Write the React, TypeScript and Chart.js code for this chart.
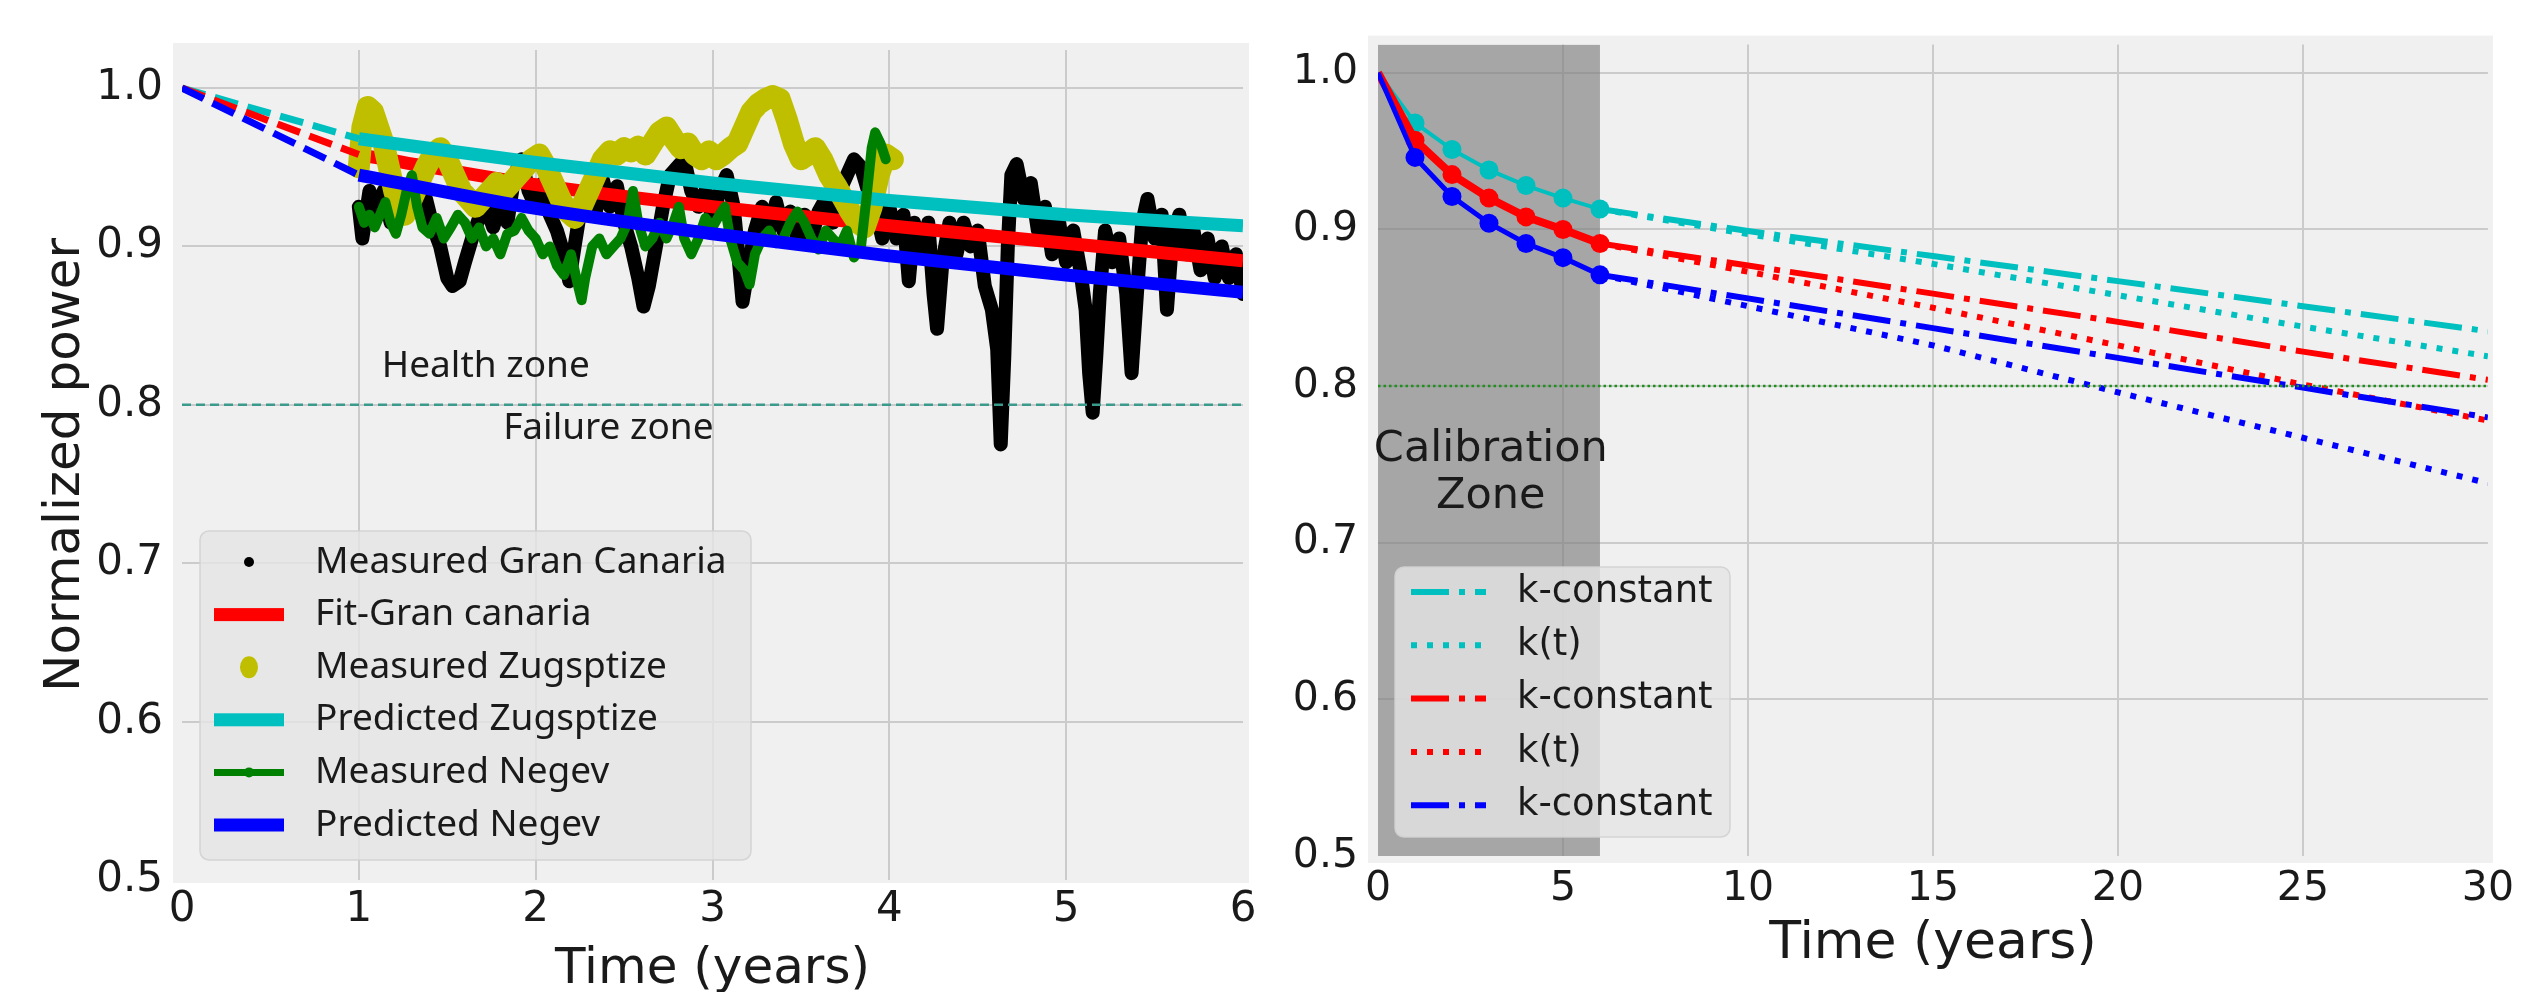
import React, { useEffect, useRef } from 'react';
import { Chart, registerables } from 'chart.js';

Chart.register(...registerables);

// ---------------- Left panel data ----------------
const leftXTicks = [0, 1, 2, 3, 4, 5, 6];
const leftYTicks = [0.5, 0.6, 0.7, 0.8, 0.9, 1.0];

const fitYears = [1, 2, 3, 4, 5, 6];
const fitGranCanaria = [0.958, 0.939, 0.925, 0.913, 0.902, 0.891];
const predZugspitze = [0.968, 0.953, 0.94, 0.929, 0.92, 0.913];
const predNegev = [0.945, 0.924, 0.908, 0.894, 0.882, 0.871];

const extYears = [0, 1];
const extGranCanaria = [1.0, 0.958];
const extZugspitze = [1.0, 0.968];
const extNegev = [1.0, 0.945];

const thresholdYearsLeft = [0, 6];
const thresholdLeft = [0.8, 0.8];

const gcYears = [
  1.0, 1.02, 1.04, 1.06, 1.1, 1.14, 1.18, 1.22, 1.26, 1.3, 1.34, 1.38, 1.42, 1.46, 1.5, 1.53, 1.57, 1.6, 1.64, 1.68,
  1.72, 1.76, 1.8, 1.84, 1.88, 1.92, 1.96, 2.0, 2.04, 2.08, 2.12, 2.16, 2.19, 2.22, 2.26, 2.3, 2.34, 2.38, 2.42, 2.46,
  2.5, 2.54, 2.58, 2.61, 2.64, 2.68, 2.72, 2.76, 2.8, 2.84, 2.88, 2.92, 2.96, 3.0, 3.04, 3.08, 3.12, 3.15, 3.17, 3.2,
  3.24, 3.28, 3.32, 3.36, 3.4, 3.44, 3.48, 3.52, 3.56, 3.6, 3.64, 3.68, 3.72, 3.76, 3.8, 3.84, 3.88, 3.92, 3.96, 4.0,
  4.04, 4.08, 4.11, 4.14, 4.18, 4.22, 4.25, 4.27, 4.3, 4.34, 4.38, 4.42, 4.46, 4.5, 4.54, 4.58, 4.61, 4.63, 4.65, 4.67,
  4.69, 4.72, 4.76, 4.8, 4.84, 4.88, 4.92, 4.96, 5.0, 5.04, 5.08, 5.11, 5.13, 5.15, 5.17, 5.19, 5.22, 5.26, 5.3, 5.34,
  5.37, 5.4, 5.43, 5.46, 5.5, 5.54, 5.57, 5.6, 5.64, 5.68, 5.72, 5.76, 5.8, 5.84, 5.88, 5.92, 5.96, 6.0,
];
const gcPower = [
  0.925, 0.905, 0.92, 0.935, 0.92, 0.935, 0.915, 0.932, 0.918, 0.938, 0.922, 0.93, 0.912, 0.9, 0.88, 0.875, 0.878, 0.89, 0.905, 0.918,
  0.925, 0.912, 0.928, 0.915, 0.945, 0.955, 0.935, 0.925, 0.94, 0.92, 0.91, 0.895, 0.878, 0.9, 0.928, 0.938, 0.922, 0.942, 0.925, 0.938,
  0.915, 0.9, 0.88, 0.862, 0.875, 0.9, 0.925, 0.945, 0.95, 0.955, 0.935, 0.925, 0.935, 0.918, 0.935, 0.945, 0.925, 0.89, 0.865, 0.885,
  0.91, 0.925, 0.91, 0.928, 0.91, 0.922, 0.905, 0.92, 0.905, 0.922, 0.93, 0.915, 0.935, 0.945, 0.955, 0.95, 0.935, 0.925, 0.905, 0.925,
  0.905, 0.92, 0.878, 0.915, 0.895, 0.915, 0.87, 0.848, 0.89, 0.915, 0.895, 0.915, 0.9, 0.91, 0.875, 0.86, 0.835, 0.775, 0.83, 0.9,
  0.945, 0.952, 0.93, 0.94, 0.91, 0.925, 0.895, 0.915, 0.89, 0.91, 0.885, 0.86, 0.82, 0.795, 0.83, 0.87, 0.91, 0.89, 0.905, 0.87,
  0.82, 0.87, 0.915, 0.93, 0.905, 0.92, 0.86, 0.905, 0.92, 0.895, 0.91, 0.885, 0.905, 0.88, 0.9, 0.88, 0.895, 0.87,
];

const zugYears = [
  1.0, 1.02, 1.05, 1.08, 1.11, 1.14, 1.17, 1.2, 1.23, 1.26, 1.3, 1.34, 1.38, 1.42, 1.46, 1.5, 1.54, 1.58, 1.62, 1.66,
  1.7, 1.74, 1.78, 1.82, 1.86, 1.9, 1.94, 1.98, 2.02, 2.06, 2.1, 2.14, 2.18, 2.22, 2.26, 2.3, 2.34, 2.38, 2.42, 2.46,
  2.5, 2.54, 2.58, 2.62, 2.66, 2.7, 2.74, 2.78, 2.82, 2.86, 2.9, 2.94, 2.98, 3.02, 3.06, 3.1, 3.14, 3.18, 3.22, 3.26,
  3.3, 3.34, 3.38, 3.42, 3.46, 3.5, 3.54, 3.58, 3.62, 3.66, 3.7, 3.74, 3.78, 3.82, 3.86, 3.9, 3.94, 3.98, 4.02,
];
const zugPower = [
  0.95, 0.975, 0.988, 0.985, 0.975, 0.965, 0.95, 0.935, 0.925, 0.92, 0.93, 0.94, 0.95, 0.958, 0.962, 0.955, 0.945, 0.935, 0.93, 0.925,
  0.93, 0.935, 0.94, 0.935, 0.94, 0.945, 0.95, 0.955, 0.958, 0.95, 0.94, 0.93, 0.922, 0.918, 0.925, 0.935, 0.945, 0.955, 0.96, 0.958,
  0.962, 0.96, 0.963, 0.958, 0.965, 0.972, 0.975, 0.968, 0.962, 0.965, 0.958, 0.955, 0.96, 0.955, 0.958, 0.962, 0.965, 0.975, 0.985, 0.99,
  0.993, 0.995, 0.993, 0.98, 0.965, 0.955, 0.958, 0.962, 0.955, 0.945, 0.938, 0.93, 0.922, 0.915, 0.912, 0.925, 0.945, 0.958, 0.955,
];

const negevYears = [
  1.0, 1.03, 1.06, 1.09, 1.12, 1.15, 1.18, 1.21, 1.24, 1.27, 1.3, 1.33, 1.36, 1.4, 1.44, 1.48, 1.52, 1.56, 1.6, 1.64,
  1.68, 1.72, 1.76, 1.8, 1.84, 1.88, 1.92, 1.96, 2.0, 2.04, 2.08, 2.12, 2.16, 2.2, 2.24, 2.26, 2.28, 2.32, 2.36, 2.4,
  2.44, 2.48, 2.52, 2.55, 2.58, 2.62, 2.66, 2.7, 2.74, 2.78, 2.81, 2.84, 2.88, 2.92, 2.96, 3.0, 3.04, 3.07, 3.1, 3.14,
  3.18, 3.21, 3.24, 3.28, 3.32, 3.36, 3.4, 3.44, 3.48, 3.52, 3.56, 3.6, 3.64, 3.68, 3.72, 3.76, 3.8, 3.84, 3.87, 3.9,
  3.92, 3.95, 3.98,
];
const negevPower = [
  0.925, 0.915, 0.92, 0.912, 0.92, 0.928, 0.915, 0.908, 0.92, 0.935, 0.945, 0.925, 0.912, 0.908, 0.918, 0.905, 0.912, 0.92, 0.915, 0.905,
  0.912, 0.9, 0.905, 0.895, 0.908, 0.91, 0.918, 0.91, 0.905, 0.895, 0.9, 0.888, 0.882, 0.895, 0.875, 0.866, 0.88, 0.9, 0.905, 0.895,
  0.9, 0.905, 0.915, 0.935, 0.915, 0.9, 0.905, 0.915, 0.905, 0.915, 0.925, 0.905, 0.895, 0.905, 0.918, 0.912, 0.92, 0.925, 0.905, 0.89,
  0.885, 0.876, 0.895, 0.905, 0.91, 0.902, 0.905, 0.915, 0.922, 0.915, 0.905, 0.898, 0.91, 0.905, 0.9, 0.91, 0.893, 0.9, 0.93, 0.962,
  0.972, 0.965, 0.955,
];

// ---------------- Right panel data ----------------
const rightXTicks = [0, 5, 10, 15, 20, 25, 30];
const rightYTicks = [0.5, 0.6, 0.7, 0.8, 0.9, 1.0];

const zoneYears = [0, 6];
const zoneTop = [1.018, 1.018];

const calYears = [0, 1, 2, 3, 4, 5, 6];
const calCyan = [1.0, 0.968, 0.951, 0.938, 0.928, 0.92, 0.913];
const calRed = [1.0, 0.957, 0.935, 0.92, 0.908, 0.9, 0.891];
const calBlue = [1.0, 0.946, 0.921, 0.904, 0.891, 0.882, 0.871];

const projYears = [6, 10, 15, 20, 25, 30];
const cyanKConst = [0.913, 0.899, 0.883, 0.867, 0.851, 0.835];
const cyanKt = [0.913, 0.897, 0.878, 0.858, 0.838, 0.819];
const redKConst = [0.891, 0.877, 0.859, 0.841, 0.822, 0.804];
const redKt = [0.891, 0.873, 0.85, 0.826, 0.801, 0.778];
const blueKConst = [0.871, 0.856, 0.837, 0.818, 0.799, 0.78];
const blueKt = [0.871, 0.851, 0.826, 0.796, 0.767, 0.738];

const thresholdYearsRight = [0, 30];
const thresholdRight = [0.8, 0.8];

// ---------------- helpers ----------------
const pts = (xs: number[], ys: number[]) => xs.map((x, i) => ({ x, y: ys[i] }));

const CYAN = '#00bfbf';
const RED = '#ff0000';
const BLUE = '#0000ff';
const GREEN = '#008000';
const OLIVE = '#bfbf00';
const GRID = '#cbcbcb';
const TEXT = '#1a1a1a';
const DEJAVU = '"DejaVu Sans", sans-serif';
const NOTO = '"Noto Sans", "DejaVu Sans", sans-serif';

function roundRect(ctx: CanvasRenderingContext2D, x: number, y: number, w: number, h: number, r: number) {
  ctx.beginPath();
  ctx.moveTo(x + r, y);
  ctx.arcTo(x + w, y, x + w, y + h, r);
  ctx.arcTo(x + w, y + h, x, y + h, r);
  ctx.arcTo(x, y + h, x, y, r);
  ctx.arcTo(x, y, x + w, y, r);
  ctx.closePath();
}

function bgPlugin(ext: { l: number; r: number; t: number; b: number }) {
  return {
    id: 'axesBg',
    beforeDraw(chart: any) {
      const { ctx, chartArea: a } = chart;
      ctx.save();
      ctx.fillStyle = '#f0f0f0';
      ctx.fillRect(a.left - ext.l, a.top - ext.t, a.width + ext.l + ext.r, a.height + ext.t + ext.b);
      ctx.restore();
    },
  };
}

type LegendRow = { ds: number; kind: string };
function legendPlugin(box: { x: number; y: number; w: number; h: number }, rowY0: number, rowStep: number,
  sx0: number, sx1: number, tx: number, font: string, rows: LegendRow[]) {
  return {
    id: 'customLegend',
    afterDraw(chart: any) {
      const ctx: CanvasRenderingContext2D = chart.ctx;
      ctx.save();
      roundRect(ctx, box.x, box.y, box.w, box.h, 9);
      ctx.fillStyle = 'rgba(229,229,229,0.8)';
      ctx.fill();
      ctx.strokeStyle = 'rgba(210,210,210,0.9)';
      ctx.lineWidth = 1.5;
      ctx.stroke();
      rows.forEach((row, i) => {
        const ds = chart.data.datasets[row.ds];
        const y = rowY0 + i * rowStep;
        const cx = (sx0 + sx1) / 2;
        ctx.save();
        const col = ds.borderColor;
        if (row.kind === 'dot') {
          ctx.fillStyle = col;
          ctx.beginPath();
          ctx.arc(cx, y, 5, 0, Math.PI * 2);
          ctx.fill();
        } else if (row.kind === 'bigdot') {
          ctx.fillStyle = col;
          ctx.beginPath();
          ctx.ellipse(cx, y, 9, 11, 0, 0, Math.PI * 2);
          ctx.fill();
        } else if (row.kind === 'bar') {
          ctx.fillStyle = col;
          ctx.fillRect(sx0, y - 6.5, sx1 - sx0, 13);
        } else if (row.kind === 'linedot') {
          ctx.strokeStyle = col;
          ctx.lineWidth = 7;
          ctx.beginPath();
          ctx.moveTo(sx0, y);
          ctx.lineTo(sx1, y);
          ctx.stroke();
          ctx.fillStyle = col;
          ctx.beginPath();
          ctx.arc(cx, y, 5, 0, Math.PI * 2);
          ctx.fill();
        } else {
          ctx.strokeStyle = col;
          ctx.lineWidth = ds.borderWidth;
          ctx.setLineDash(ds.borderDash || []);
          ctx.beginPath();
          ctx.moveTo(sx0, y);
          ctx.lineTo(sx1, y);
          ctx.stroke();
        }
        ctx.restore();
        ctx.fillStyle = TEXT;
        ctx.font = font;
        ctx.textAlign = 'left';
        ctx.textBaseline = 'middle';
        ctx.fillText(ds.label, tx, y);
      });
      ctx.restore();
    },
  };
}

type Note = { text: string; x: number; y: number; align: CanvasTextAlign };
function notesPlugin(notes: Note[], font: string) {
  return {
    id: 'notes',
    afterDatasetsDraw(chart: any) {
      const { ctx, scales } = chart;
      ctx.save();
      ctx.fillStyle = TEXT;
      ctx.font = font;
      ctx.textBaseline = 'middle';
      notes.forEach((n) => {
        ctx.textAlign = n.align;
        ctx.fillText(n.text, scales.x.getPixelForValue(n.x), scales.y.getPixelForValue(n.y));
      });
      ctx.restore();
    },
  };
}

function gridColor(hidden: number[]) {
  return (c: any) => (c.tick && hidden.includes(c.tick.value) ? 'rgba(0,0,0,0)' : GRID);
}

// ---------------- Left chart ----------------
function LeftPanel() {
  const ref = useRef<HTMLCanvasElement>(null);
  useEffect(() => {
    const round = { borderJoinStyle: 'round', borderCapStyle: 'round', pointRadius: 0, tension: 0 };
    const chart = new Chart(ref.current as HTMLCanvasElement, {
      type: 'line',
      data: {
        datasets: [
          { label: 'Measured Gran Canaria', data: pts(gcYears, gcPower), borderColor: '#000000', borderWidth: 14, order: 10, ...round },
          { label: 'Fit-Gran canaria', data: pts(fitYears, fitGranCanaria), borderColor: RED, borderWidth: 13, pointRadius: 0, cubicInterpolationMode: 'monotone', order: 9 },
          { label: 'Measured Zugsptize', data: pts(zugYears, zugPower), borderColor: OLIVE, borderWidth: 22, order: 8, ...round },
          { label: 'Predicted Zugsptize', data: pts(fitYears, predZugspitze), borderColor: CYAN, borderWidth: 13, pointRadius: 0, cubicInterpolationMode: 'monotone', order: 7 },
          { label: 'Measured Negev', data: pts(negevYears, negevPower), borderColor: GREEN, borderWidth: 10, order: 6, ...round },
          { label: 'Predicted Negev', data: pts(fitYears, predNegev), borderColor: BLUE, borderWidth: 13, pointRadius: 0, cubicInterpolationMode: 'monotone', order: 5 },
          { label: 'ext-cyan', data: pts(extYears, extZugspitze), borderColor: CYAN, borderWidth: 7, borderDash: [24, 10], pointRadius: 0, order: 4 },
          { label: 'ext-red', data: pts(extYears, extGranCanaria), borderColor: RED, borderWidth: 7, borderDash: [24, 10], pointRadius: 0, order: 3 },
          { label: 'ext-blue', data: pts(extYears, extNegev), borderColor: BLUE, borderWidth: 7, borderDash: [24, 10], pointRadius: 0, order: 2 },
          { label: 'threshold', data: pts(thresholdYearsLeft, thresholdLeft), borderColor: '#3a9a8c', borderWidth: 2.5, borderDash: [9, 5], pointRadius: 0, order: 1 },
        ],
      },
      options: {
        responsive: false,
        animation: false,
        devicePixelRatio: 1,
        layout: { padding: { top: 50, right: 25, left: 0, bottom: 0 } },
        plugins: { legend: { display: false }, tooltip: { enabled: false } },
        scales: {
          x: {
            type: 'linear',
            min: 0,
            max: 6,
            afterBuildTicks: (s: any) => { s.ticks = leftXTicks.map((v) => ({ value: v })); },
            afterFit: (s: any) => { s.height = 112; },
            grid: { color: gridColor([0, 6]), lineWidth: 2, drawTicks: false },
            border: { display: false },
            ticks: { padding: 5, color: TEXT, font: { family: DEJAVU, size: 42 }, maxRotation: 0, autoSkip: false, callback: (v: any) => String(v) },
            title: { display: true, text: 'Time (years)', color: TEXT, font: { family: DEJAVU, size: 50, lineHeight: 1 }, padding: { top: 0, bottom: -3 } },
          },
          y: {
            type: 'linear',
            min: 0.5,
            max: 1.024,
            afterBuildTicks: (s: any) => { s.ticks = leftYTicks.map((v) => ({ value: v })); },
            afterFit: (s: any) => { s.width = 182; },
            grid: { color: gridColor([0.5]), lineWidth: 2, drawTicks: false },
            border: { display: false },
            ticks: { padding: 19, color: TEXT, font: { family: DEJAVU, size: 42 }, callback: (v: any) => Number(v).toFixed(1) },
            title: { display: true, text: 'Normalized power', color: TEXT, font: { family: DEJAVU, size: 50, lineHeight: 1.2 }, padding: { top: 36, bottom: 0 } },
          },
        },
      } as any,
      plugins: [
        bgPlugin({ l: 9, r: 6, t: 7, b: 3 }),
        notesPlugin([
          { text: 'Health zone', x: 1.13, y: 0.824, align: 'left' },
          { text: 'Failure zone', x: 1.816, y: 0.785, align: 'left' },
        ], `37px ${NOTO}`),
        legendPlugin({ x: 200, y: 531, w: 551, h: 329 }, 562, 52.6, 214, 284, 315, `37px ${NOTO}`, [
          { ds: 0, kind: 'dot' },
          { ds: 1, kind: 'bar' },
          { ds: 2, kind: 'bigdot' },
          { ds: 3, kind: 'bar' },
          { ds: 4, kind: 'linedot' },
          { ds: 5, kind: 'bar' },
        ]),
      ],
    } as any);
    return () => chart.destroy();
  }, []);
  return <canvas ref={ref} width={1268} height={992} style={{ position: 'absolute', left: 0, top: 0, display: 'block' }} />;
}

// ---------------- Right chart ----------------
function RightPanel() {
  const ref = useRef<HTMLCanvasElement>(null);
  useEffect(() => {
    const dashDot = [38, 10, 6, 10];
    const dotted = [6, 10];
    const marker = (c: string) => ({ pointRadius: [0, 9.5, 9.5, 9.5, 9.5, 9.5, 9.5], pointBackgroundColor: c, pointBorderWidth: 0, pointBorderColor: c });
    const chart = new Chart(ref.current as HTMLCanvasElement, {
      type: 'line',
      data: {
        datasets: [
          { label: 'Calibration zone', data: pts(zoneYears, zoneTop), borderWidth: 0, borderColor: 'rgba(0,0,0,0)', backgroundColor: 'rgba(128,128,128,0.66)', fill: { value: 0.5 }, pointRadius: 0, order: 100 },
          { label: 'cal-cyan', data: pts(calYears, calCyan), borderColor: CYAN, borderWidth: 4, order: 12, ...marker(CYAN) },
          { label: 'cal-red', data: pts(calYears, calRed), borderColor: RED, borderWidth: 8, order: 11, ...marker(RED) },
          { label: 'cal-blue', data: pts(calYears, calBlue), borderColor: BLUE, borderWidth: 5, order: 10, ...marker(BLUE) },
          { label: 'k-constant', data: pts(projYears, cyanKConst), borderColor: CYAN, borderWidth: 6, borderDash: dashDot, pointRadius: 0, order: 9 },
          { label: 'k(t)', data: pts(projYears, cyanKt), borderColor: CYAN, borderWidth: 6, borderDash: dotted, pointRadius: 0, order: 8 },
          { label: 'k-constant', data: pts(projYears, redKConst), borderColor: RED, borderWidth: 6, borderDash: dashDot, pointRadius: 0, order: 7 },
          { label: 'k(t)', data: pts(projYears, redKt), borderColor: RED, borderWidth: 6, borderDash: dotted, pointRadius: 0, order: 6 },
          { label: 'k-constant', data: pts(projYears, blueKConst), borderColor: BLUE, borderWidth: 6, borderDash: dashDot, pointRadius: 0, order: 5 },
          { label: 'k(t) blue', data: pts(projYears, blueKt), borderColor: BLUE, borderWidth: 6, borderDash: dotted, pointRadius: 0, order: 4 },
          { label: 'threshold', data: pts(thresholdYearsRight, thresholdRight), borderColor: '#1f8f1f', borderWidth: 2.5, borderDash: [2.5, 3], pointRadius: 0, order: 3 },
        ],
      },
      options: {
        responsive: false,
        animation: false,
        devicePixelRatio: 1,
        layout: { padding: { top: 38, right: 31, left: 0, bottom: 0 } },
        plugins: { legend: { display: false }, tooltip: { enabled: false } },
        scales: {
          x: {
            type: 'linear',
            min: 0,
            max: 30,
            afterBuildTicks: (s: any) => { s.ticks = rightXTicks.map((v) => ({ value: v })); },
            afterFit: (s: any) => { s.height = 136; },
            grid: { color: gridColor([0, 30]), lineWidth: 2, drawTicks: false },
            border: { display: false },
            ticks: { padding: 9, color: TEXT, font: { family: DEJAVU, size: 41 }, maxRotation: 0, autoSkip: false, callback: (v: any) => String(v) },
            title: { display: true, text: 'Time (years)', color: TEXT, font: { family: DEJAVU, size: 52, lineHeight: 1 }, padding: { top: 0, bottom: 22 } },
          },
          y: {
            type: 'linear',
            min: 0.5,
            max: 1.018,
            afterBuildTicks: (s: any) => { s.ticks = rightYTicks.map((v) => ({ value: v })); },
            afterFit: (s: any) => { s.width = 110; },
            grid: { color: gridColor([0.5]), lineWidth: 2, drawTicks: false },
            border: { display: false },
            ticks: { padding: 20, color: TEXT, font: { family: DEJAVU, size: 41 }, callback: (v: any) => Number(v).toFixed(1) },
          },
        },
      } as any,
      plugins: [
        bgPlugin({ l: 10, r: 5, t: 9, b: 7 }),
        notesPlugin([
          { text: 'Calibration', x: 3.05, y: 0.759, align: 'center' },
          { text: 'Zone', x: 3.05, y: 0.729, align: 'center' },
        ], `43px ${DEJAVU}`),
        legendPlugin({ x: 127, y: 567, w: 335, h: 270 }, 592, 53.3, 143, 218, 249, `37px ${DEJAVU}`, [
          { ds: 4, kind: 'line' },
          { ds: 5, kind: 'line' },
          { ds: 6, kind: 'line' },
          { ds: 7, kind: 'line' },
          { ds: 8, kind: 'line' },
        ]),
      ],
    } as any);
    return () => chart.destroy();
  }, []);
  return <canvas ref={ref} width={1255} height={992} style={{ position: 'absolute', left: 1268, top: 0, display: 'block' }} />;
}

export default function App() {
  return (
    <div style={{ position: 'fixed', left: 0, top: 0, width: 2523, height: 992, background: '#ffffff', overflow: 'hidden' }}>
      <LeftPanel />
      <RightPanel />
    </div>
  );
}
